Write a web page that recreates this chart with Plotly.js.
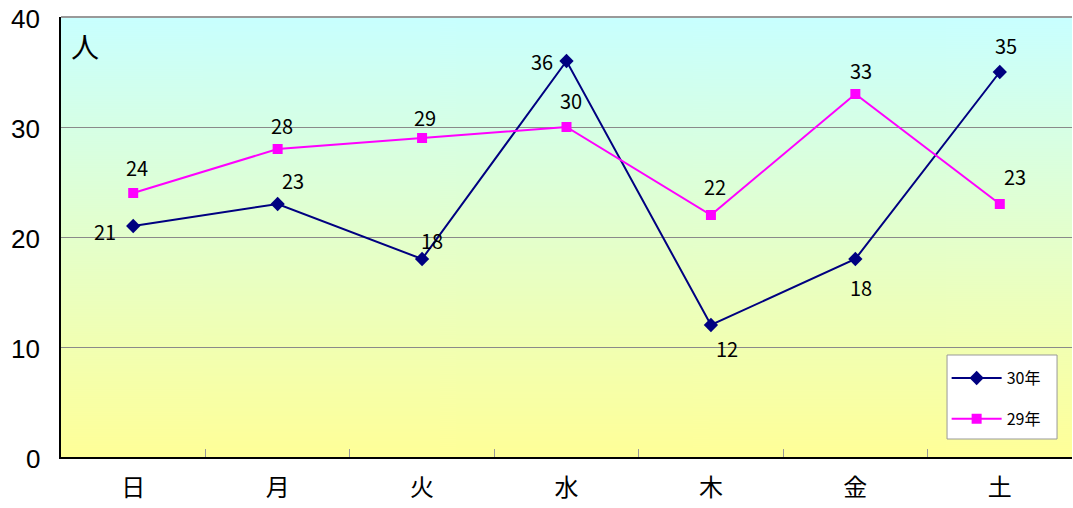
<!DOCTYPE html>
<html><head><meta charset="utf-8">
<script src="https://cdn.plot.ly/plotly-3.0.1.min.js"></script>
<style>html,body{margin:0;padding:0;background:#fff;}#chart{width:1073px;height:508px;}</style>
</head><body><div id="chart"></div>
<script>
const days = ['日','月','火','水','木','金','土'];
const name30 = '30年';
const name29 = '29年';
const values30 = [21, 23, 18, 36, 12, 18, 35];
const values29 = [24, 28, 29, 30, 22, 33, 23];
const yTicks = [0, 10, 20, 30, 40];

// label placement (pixel shifts from each marker)
const shift30 = [[-28,-5],[15,24],[10,19],[-25,0],[16,-23],[6,-28],[6,27]];
const shift29 = [[4,26],[4,24],[3,21],[4,27],[4,29],[6,24],[15,28]];

const FONT = '"Noto Sans CJK JP", "Noto Sans", sans-serif';
const NUMFONT = '"Liberation Sans", Arial, sans-serif';

// gradient background image
const cv = document.createElement('canvas');
cv.width = 4; cv.height = 440;
const cx = cv.getContext('2d');
const g = cx.createLinearGradient(0,0,0,440);
g.addColorStop(0,'#c8ffff');
g.addColorStop(1,'#ffff98');
cx.fillStyle = g; cx.fillRect(0,0,4,440);
const bgUrl = cv.toDataURL('image/png');

const annotations = [];
values30.forEach((v,i)=>annotations.push({x:days[i], y:v, text:String(v), showarrow:false,
  xshift:shift30[i][0], yshift:shift30[i][1], font:{size:20, color:'#000', family:FONT}}));
values29.forEach((v,i)=>annotations.push({x:days[i], y:v, text:String(v), showarrow:false,
  xshift:shift29[i][0], yshift:shift29[i][1], font:{size:20, color:'#000', family:FONT}}));
annotations.push({xref:'paper', yref:'paper', x:0.008, y:0.985, xanchor:'left', yanchor:'top',
  text:'人', showarrow:false, font:{size:28, color:'#000', family:FONT}});
// y-axis tick labels
yTicks.forEach(t=>annotations.push({xref:'paper', yref:'y', x:0, y:t, text:String(t),
  xanchor:'right', yanchor:'middle', xshift:-20, yshift:-2, showarrow:false, borderpad:0,
  font:{size:26, color:'#000', family:NUMFONT}}));

const traces = [
  {type:'scatter', mode:'lines+markers', name:name30, x:days, y:values30, legendgroup:'a',
   line:{color:'#000080', width:2}, marker:{symbol:'diamond', size:11, color:'#000080'}},
  {type:'scatter', mode:'lines+markers', name:name29, x:days, y:values29, legendgroup:'b',
   line:{color:'#ff00ff', width:2}, marker:{symbol:'square', size:10, color:'#ff00ff'}}
];

const layout = {
  width:1073, height:508,
  margin:{l:61, r:1, t:17, b:51},
  paper_bgcolor:'#ffffff', plot_bgcolor:'rgba(0,0,0,0)',
  font:{family:FONT, color:'#000'},
  showlegend:true,
  legend:{x:0.876, y:0.218, xanchor:'left', yanchor:'top', bgcolor:'rgba(0,0,0,0)',
    borderwidth:0, font:{size:16, family:FONT}, tracegroupgap:17, itemwidth:50},
  xaxis:{type:'category', range:[-0.5,6.5], showline:true, linecolor:'#000', linewidth:2,
    ticks:'inside', tickson:'boundaries', ticklen:8, tickcolor:'#999', showgrid:false,
    tickfont:{size:24, family:FONT}, ticklabelstandoff:8, fixedrange:true},
  yaxis:{range:[0,40], tickvals:yTicks, showline:true, linecolor:'#000', linewidth:2,
    ticks:'inside', ticklen:8, tickcolor:'#888', showgrid:true, gridcolor:'#8a8a8a', gridwidth:1,
    showticklabels:false, zeroline:false, fixedrange:true},
  images:[{source:bgUrl, xref:'paper', yref:'paper', x:0, y:1, sizex:1, sizey:1,
    sizing:'stretch', layer:'below', xanchor:'left', yanchor:'top'}],
  shapes:[
    {type:'line', xref:'paper', yref:'paper', x0:0, x1:1, y0:1, y1:1,
     line:{color:'#999', width:2}},
    {type:'rect', xref:'paper', yref:'paper', x0:0.8764, x1:0.9852, y0:0.0409, y1:0.2318,
     fillcolor:'#ffffff', line:{color:'#999999', width:1}, layer:'above'}
  ],
  annotations:annotations
};
Plotly.newPlot('chart', traces, layout, {displayModeBar:false, staticPlot:true});
</script></body></html>
